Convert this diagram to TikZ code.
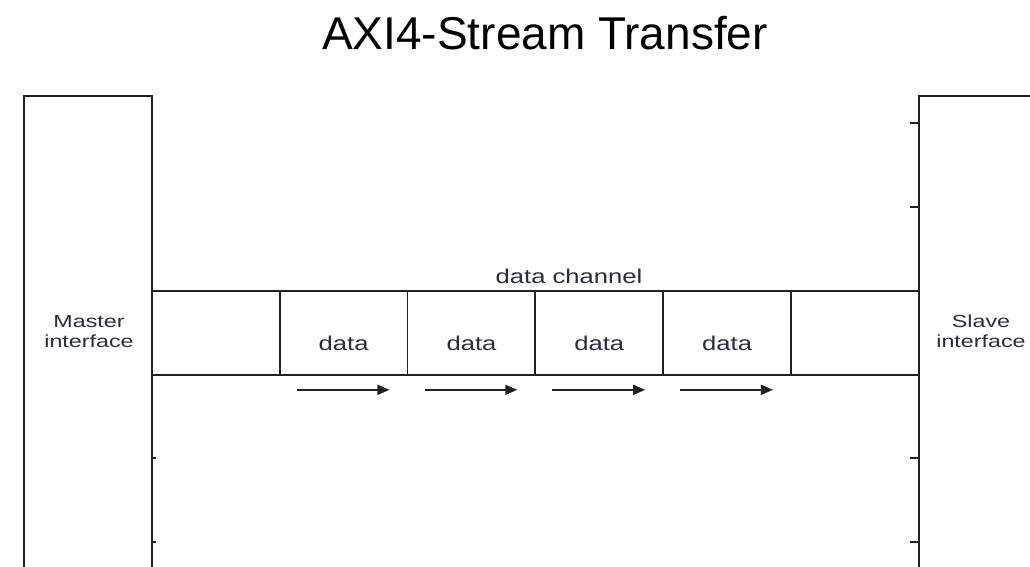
\documentclass[tikz,border=0pt]{standalone}
\usepackage{fontspec}
\setmainfont{Liberation Sans}
\usetikzlibrary{arrows.meta,calc}
\definecolor{ink}{RGB}{34,34,34}
\definecolor{txt}{RGB}{40,44,64}
\newcommand{\wide}[2]{\scalebox{#1}[1]{#2}}
\begin{document}
\begin{tikzpicture}[x=1pt,y=-1pt,
  boxline/.style={draw=ink,line width=2pt,rectangle,inner sep=0pt,anchor=north west},
  cell/.style={draw=ink,line width=1.8pt,minimum width=127.83pt,minimum height=84pt,inner sep=0pt,anchor=north west},
  lbl/.style={text=txt,font=\fontsize{20}{24}\selectfont,inner sep=0pt,anchor=base},
  iflbl/.style={text=txt,font=\fontsize{17.5}{20}\selectfont,inner sep=0pt,anchor=base},
  flow/.style={draw=ink,line width=1.8pt,-{Triangle[length=12pt,width=10pt]}},
  tickmark/.style={draw=ink,line width=1.8pt}]
\useasboundingbox (0,0) rectangle (1030,566);
\clip (0,0) rectangle (1030,566);
% title
\node[anchor=base,font=\fontsize{46}{50}\selectfont,inner sep=0pt] (title) at (545,49) {AXI4-Stream Transfer};
% interface boxes
\node[boxline,minimum width=128pt,minimum height=520pt] (master) at (23,95) {};
\node[boxline,minimum width=140pt,minimum height=520pt] (slave) at (918,95) {};
% channel cells
\foreach \i in {0,...,5}
  \node[cell] (c\i) at ({151+127.83*\i},290) {};
% data labels and arrows
\foreach \i in {1,...,4}{
  \node[lbl] (d\i) at ($(c\i.center)+(0,18)$) {\wide{1.28}{data}};
  \coordinate (as\i) at ($(c\i.south west)+(18,14)$);
  \coordinate (ae\i) at ($(c\i.south east)+(-19,14)$);
  \draw[flow] (as\i) -- (ae\i);
}
\node[lbl] (chan) at (569,283) {\wide{1.28}{data channel}};
% interface labels
\node[iflbl] (mlbl) at (89,327) {\wide{1.33}{\begin{tabular}[t]{@{}c@{}}Master\\interface\end{tabular}}};
\node[iflbl] (slbl) at (981,327) {\wide{1.33}{\begin{tabular}[t]{@{}c@{}}Slave\\interface\end{tabular}}};
% ticks on the slave edge
\foreach \d in {28,112,363,447}{
  \coordinate (st\d) at ($(slave.north west)+(0,\d)$);
  \draw[tickmark] (st\d) -- ++(-8,0);
}
% tiny ticks on the master edge
\foreach \d in {363,447}{
  \coordinate (mt\d) at ($(master.north east)+(0,\d)$);
  \draw[tickmark] (mt\d) -- ++(2.5,0);
}
\end{tikzpicture}
\end{document}
